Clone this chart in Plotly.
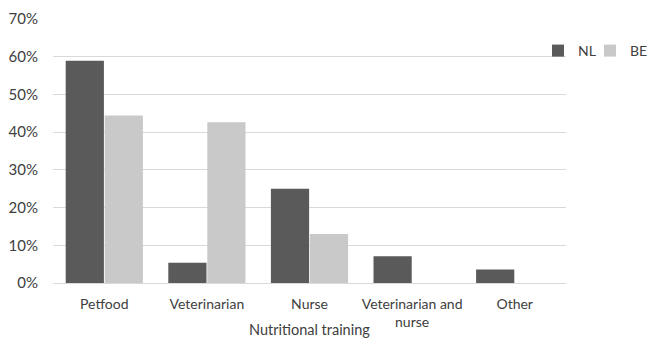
import plotly.graph_objects as go

categories = ["Petfood", "Veterinarian", "Nurse", "Veterinarian and<br>nurse", "Other"]
nl_values = [58.9, 5.4, 25.0, 7.1, 3.6]
be_values = [44.4, 42.6, 13.0, 0.0, 0.0]
y_ticks = [0, 10, 20, 30, 40, 50, 60, 70]
y_tick_labels = [f"{v}%" for v in y_ticks]
x_title = "Nutritional training"

font_family = "Lato, Open Sans, sans-serif"
text_color = "#404040"
W, H = 651, 339

fig = go.Figure()
fig.add_trace(go.Bar(name="NL", x=categories, y=nl_values, legend="legend",
                     showlegend=True,
                     marker=dict(color="#5a5a5a", line=dict(width=0))))
fig.add_trace(go.Bar(name="BE", x=categories, y=be_values, legend="legend2",
                     showlegend=True,
                     marker=dict(color="#c9c9c9", line=dict(width=0))))

# Axis title placed as a paper-anchored annotation so the two-line tick
# label does not push it down.
fig.add_annotation(text=x_title, xref="paper", yref="paper", x=0.5, y=0,
                   xanchor="center", yanchor="top", yshift=-36, showarrow=False,
                   font=dict(size=14.5, color=text_color))

# One legend per series so the two entries can sit close together.
legend_style = dict(orientation="h", xref="container", yref="container",
                    xanchor="left", yanchor="middle", itemwidth=30, visible=True,
                    font=dict(size=14, color=text_color),
                    bgcolor="rgba(0,0,0,0)")

fig.update_layout(
    width=W, height=H,
    showlegend=True,
    margin=dict(l=53, r=85, t=19, b=56, autoexpand=False),
    paper_bgcolor="white", plot_bgcolor="white",
    barmode="group", bargap=0.24, bargroupgap=0.02,
    font=dict(family=font_family, size=14, color=text_color),
    legend=dict(legend_style, x=538 / W, y=1 - 51 / H),
    legend2=dict(legend_style, x=590 / W, y=1 - 51 / H),
    xaxis=dict(
        showgrid=False, showline=True, linecolor="#d9d9d9", linewidth=1,
        ticks="", tickfont=dict(size=14, color=text_color), ticklabelstandoff=8,
    ),
    yaxis=dict(
        range=[0, 70], tickvals=y_ticks, ticktext=y_tick_labels,
        showgrid=True, gridcolor="#d9d9d9", gridwidth=1,
        zeroline=False, showline=False, ticks="",
        tickfont=dict(size=15, color=text_color), ticklabelstandoff=14,
    ),
)

fig.write_html("out.html")
